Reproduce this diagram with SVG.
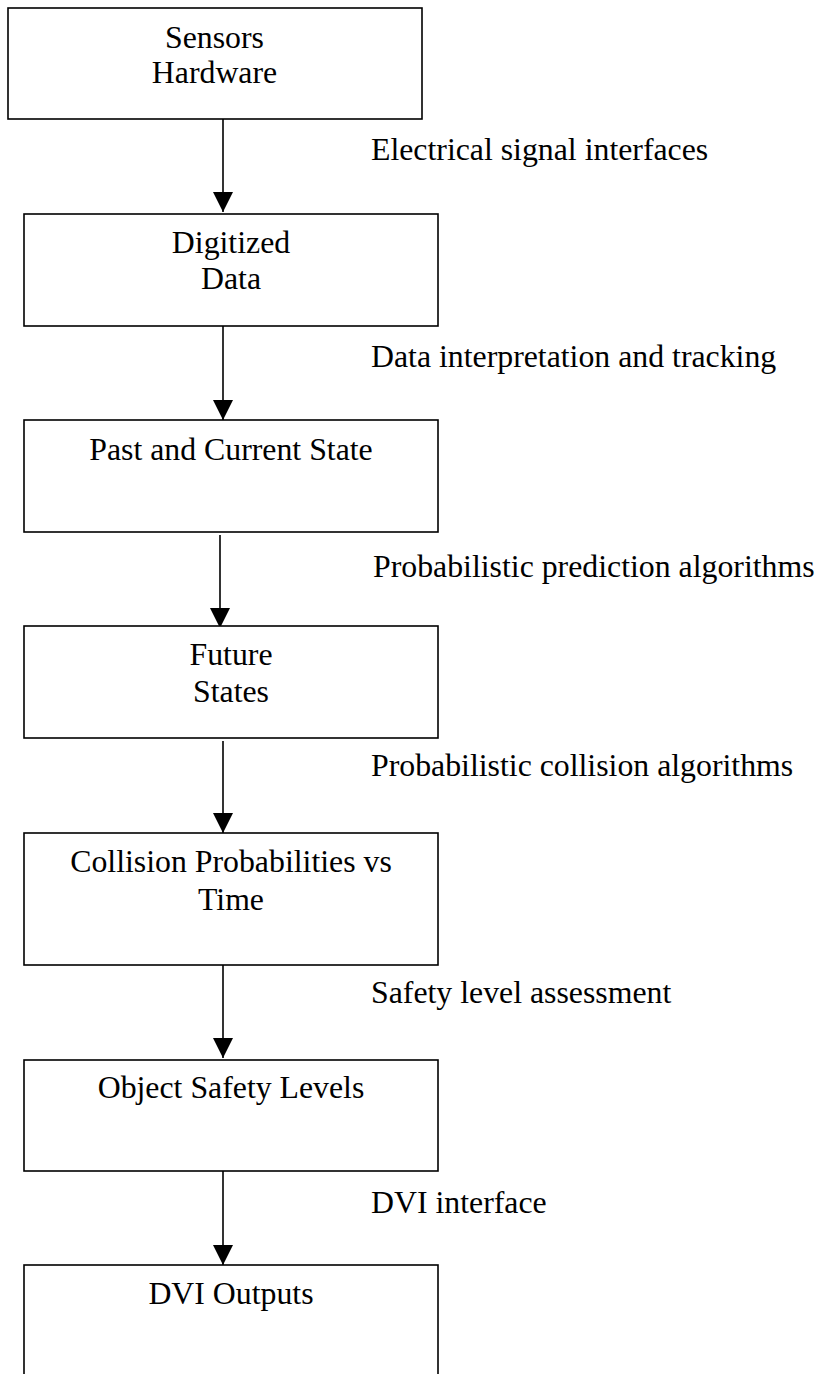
<svg xmlns="http://www.w3.org/2000/svg" width="820" height="1374" viewBox="0 0 820 1374">
<style>
.box{fill:#fff;stroke:#000;stroke-width:1.6}
.t{font-family:"Liberation Serif","Times New Roman",serif;font-size:31.8px;fill:#000}
.c{text-anchor:middle}
.conn{stroke:#000;stroke-width:1.6;fill:none}
</style>
<defs>
<marker id="ah" markerUnits="userSpaceOnUse" markerWidth="20" markerHeight="20" refX="20" refY="10" orient="auto">
<path d="M0,0 L20,10 L0,20 Z" fill="#000"/>
</marker>
</defs>
<rect width="820" height="1374" fill="#fff"/>
<g id="connectors">
<line class="conn" x1="223" y1="119" x2="223" y2="212" marker-end="url(#ah)"/>
<line class="conn" x1="223" y1="326" x2="223" y2="420" marker-end="url(#ah)"/>
<line class="conn" x1="220" y1="535" x2="220" y2="628" marker-end="url(#ah)"/>
<line class="conn" x1="223" y1="741" x2="223" y2="833" marker-end="url(#ah)"/>
<line class="conn" x1="223" y1="965" x2="223" y2="1058" marker-end="url(#ah)"/>
<line class="conn" x1="223" y1="1171" x2="223" y2="1265" marker-end="url(#ah)"/>
<text class="t" x="371" y="160">Electrical signal interfaces</text>
<text class="t" x="371" y="367">Data interpretation and tracking</text>
<text class="t" x="373" y="577">Probabilistic prediction algorithms</text>
<text class="t" x="371" y="776">Probabilistic collision algorithms</text>
<text class="t" x="371" y="1003">Safety level assessment</text>
<text class="t" x="371" y="1213">DVI interface</text>
</g>
<g id="sensors">
<rect class="box" x="8" y="8" width="414" height="111"/>
<text class="t c" x="214.5" y="48">Sensors</text>
<text class="t c" x="214.5" y="83">Hardware</text>
</g>
<g id="digitized">
<rect class="box" x="24" y="214" width="414" height="112"/>
<text class="t c" x="231" y="253">Digitized</text>
<text class="t c" x="231" y="289">Data</text>
</g>
<g id="past-current">
<rect class="box" x="24" y="420" width="414" height="112"/>
<text class="t c" x="231" y="460">Past and Current State</text>
</g>
<g id="future">
<rect class="box" x="24" y="626" width="414" height="112"/>
<text class="t c" x="231" y="665">Future</text>
<text class="t c" x="231" y="702">States</text>
</g>
<g id="collision">
<rect class="box" x="24" y="833" width="414" height="132"/>
<text class="t c" x="231" y="872">Collision Probabilities vs</text>
<text class="t c" x="231" y="910">Time</text>
</g>
<g id="safety">
<rect class="box" x="24" y="1060" width="414" height="111"/>
<text class="t c" x="231" y="1098">Object Safety Levels</text>
</g>
<g id="dvi">
<rect class="box" x="24" y="1265" width="414" height="130"/>
<text class="t c" x="231" y="1304">DVI Outputs</text>
</g>
</svg>
